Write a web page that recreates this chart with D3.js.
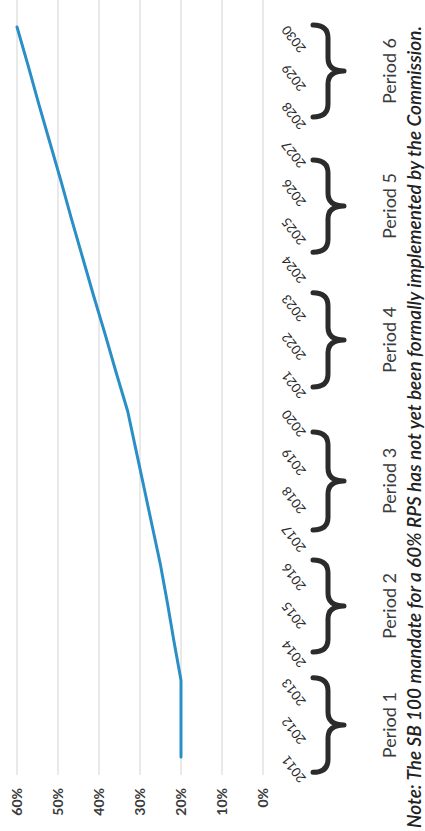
<!DOCTYPE html>
<html>
<head>
<meta charset="utf-8">
<script src="https://cdn.jsdelivr.net/npm/d3@7"></script>
<style>
  html, body { margin: 0; padding: 0; background: #fff; }
  svg { display: block; }
  text { font-family: Lato, "Open Sans", "DejaVu Sans", sans-serif; }
</style>
</head>
<body>
<script>
// ---- data ----
const years = [2011, 2012, 2013, 2014, 2015, 2016, 2017, 2018, 2019, 2020,
               2021, 2022, 2023, 2024, 2025, 2026, 2027, 2028, 2029, 2030];
const rpsTarget = [20, 20, 20, 21.7, 23.3, 25, 27, 29, 31, 33,
                   35.8, 38.5, 41.3, 44, 46.7, 49.3, 52, 54.7, 57.3, 60];
const pctTicks = [0, 10, 20, 30, 40, 50, 60];
const periodLabels = ["Period 1", "Period 2", "Period 3", "Period 4", "Period 5", "Period 6"];
const periodStart = [2010.6, 2013.73, 2016.91, 2020.63, 2024.14, 2027.66];
const periodEnd   = [2013.06, 2016.13, 2019.46, 2023.08, 2026.54, 2030.05];
const noteText = "Note: The SB 100 mandate for a 60% RPS has not yet been formally implemented by the Commission.";

// ---- drawing ----
const W = 425, H = 831;
const svg = d3.select("body").append("svg").attr("width", W).attr("height", H);
svg.append("rect").attr("width", W).attr("height", H).attr("fill", "#fff");

// whole chart is drawn unrotated, then turned 90° counter-clockwise
const g = svg.append("g").attr("transform", `translate(0,${H}) rotate(-90)`);

const x = d3.scaleLinear().domain([2011, 2030]).range([74, 804]);
const y = d3.scaleLinear().domain([0, 60]).range([263, 17]);

// gridlines
g.append("g").selectAll("line").data(pctTicks).join("line")
  .attr("x1", 56).attr("x2", H)
  .attr("y1", d => y(d)).attr("y2", d => y(d))
  .attr("stroke", "#dedede").attr("stroke-width", 1.3);

// percent axis
const yAxis = g.append("g").attr("transform", "translate(43,0)")
  .call(d3.axisLeft(y).tickValues(pctTicks).tickFormat(d => d + "%").tickSize(0).tickPadding(0));
yAxis.select(".domain").remove();
yAxis.selectAll("text")
  .attr("font-size", 14).attr("font-weight", "bold").attr("fill", "#3a3a3a")
  .style("font-family", "Lato, 'Open Sans', sans-serif");

// year axis
const xAxis = g.append("g").attr("transform", "translate(0,288)")
  .call(d3.axisBottom(x).tickValues(years).tickFormat(d3.format("d")).tickSize(0));
xAxis.select(".domain").remove();
xAxis.selectAll("text")
  .attr("x", 0).attr("y", 0).attr("dy", 0)
  .attr("text-anchor", "end")
  .attr("transform", "translate(2,0) rotate(-38)")
  .attr("font-size", 13).attr("fill", "#2a2a2a")
  .style("font-family", "Lato, 'Open Sans', sans-serif");

// line
const line = d3.line().x((d, i) => x(years[i])).y(d => y(d));
g.append("path").datum(rpsTarget)
  .attr("d", line)
  .attr("fill", "none").attr("stroke", "#2a8fc7").attr("stroke-width", 3)
  .attr("stroke-linejoin", "round").attr("stroke-linecap", "round");

// braces
function bracePath(a, b) {
  const v0 = 313, v1 = 328, v2 = 344, r = 13;
  const m = (a + b) / 2;
  return `M${a},${v0} Q${a},${v1} ${a + r},${v1} L${m - r},${v1} Q${m},${v1} ${m},${v2}` +
         ` Q${m},${v1} ${m + r},${v1} L${b - r},${v1} Q${b},${v1} ${b},${v0}`;
}
g.append("g").selectAll("path").data(periodLabels).join("path")
  .attr("d", (d, i) => bracePath(x(periodStart[i]), x(periodEnd[i])))
  .attr("fill", "none").attr("stroke", "#2b2b2b").attr("stroke-width", 5)
  .attr("stroke-linecap", "round").attr("stroke-linejoin", "round");

// period labels
g.append("g").selectAll("text").data(periodLabels).join("text")
  .attr("x", (d, i) => x((periodStart[i] + periodEnd[i]) / 2))
  .attr("y", 396)
  .attr("text-anchor", "middle")
  .attr("font-size", 18).attr("fill", "#3c3c3c")
  .text(d => d);

// note
const note = g.append("text")
  .attr("x", 3).attr("y", 421)
  .attr("font-size", 18).attr("font-style", "italic").attr("font-weight", 600)
  .attr("fill", "#222")
  .text(noteText);
const len = note.node().getComputedTextLength();
note.attr("font-size", 18 * 803 / len);
</script>
</body>
</html>
